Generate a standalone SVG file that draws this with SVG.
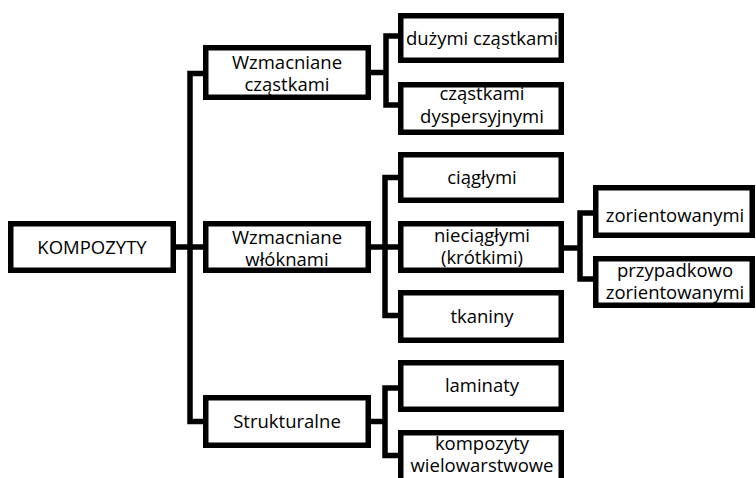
<svg xmlns="http://www.w3.org/2000/svg" width="756" height="478" viewBox="0 0 756 478">
<style>
.box{fill:#fff;stroke:#000;stroke-width:5.5}
.ln{fill:none;stroke:#000;stroke-width:5.5;stroke-linejoin:miter}
text{font-family:"Open Sans","Noto Sans",sans-serif;font-size:18.5px;fill:#000;text-anchor:middle}
</style>
<rect width="756" height="478" fill="#fff"/>
<g id="connectors">
<path class="ln" d="M203,73.5 H190 V421.5 H203"/>
<path class="ln" d="M176,247 H203"/>
<path class="ln" d="M371,72.5 H386"/>
<path class="ln" d="M398,36 H386 V105 H398"/>
<path class="ln" d="M371,247 H398"/>
<path class="ln" d="M398,177.5 H385 V315.5 H398"/>
<path class="ln" d="M371,421.5 H385"/>
<path class="ln" d="M398,388 H385 V455.5 H398"/>
<path class="ln" d="M564,248 H580"/>
<path class="ln" d="M593,213 H580 V279 H593"/>
</g>
<g id="kompozyty"><rect class="box" x="10.75" y="223.75" width="162.5" height="46.5"/><text x="92" y="253.5">KOMPOZYTY</text></g>
<g id="wzm-czastkami"><rect class="box" x="205.75" y="47.75" width="162.5" height="49.5"/><text x="287" y="68.5">Wzmacniane</text><text x="287" y="91">cząstkami</text></g>
<g id="wzm-wloknami"><rect class="box" x="205.75" y="223.75" width="162.5" height="46.5"/><text x="287" y="243.5">Wzmacniane</text><text x="287" y="265.5">włóknami</text></g>
<g id="strukturalne"><rect class="box" x="205.75" y="397.75" width="162.5" height="47.5"/><text x="287" y="428">Strukturalne</text></g>
<g id="duzymi"><rect class="box" x="400.75" y="15.75" width="160.5" height="44.5"/><text x="482" y="45">dużymi cząstkami</text></g>
<g id="dyspersyjnymi"><rect class="box" x="400.75" y="84.75" width="160.5" height="47.5"/><text x="482" y="100">cząstkami</text><text x="482" y="123">dyspersyjnymi</text></g>
<g id="ciaglymi"><rect class="box" x="400.75" y="154.75" width="160.5" height="45.5"/><text x="482" y="183.5">ciągłymi</text></g>
<g id="nieciaglymi"><rect class="box" x="400.75" y="223.75" width="160.5" height="46.5"/><text x="482" y="242">nieciągłymi</text><text x="482" y="263.5">(krótkimi)</text></g>
<g id="tkaniny"><rect class="box" x="400.75" y="292.75" width="160.5" height="47.5"/><text x="482" y="323">tkaniny</text></g>
<g id="laminaty"><rect class="box" x="400.75" y="362.75" width="160.5" height="46.5"/><text x="482" y="392">laminaty</text></g>
<g id="wielowarstwowe"><rect class="box" x="400.75" y="432.75" width="160.5" height="52"/><text x="482" y="450">kompozyty</text><text x="482" y="472">wielowarstwowe</text></g>
<g id="zorientowanymi"><rect class="box" x="595.75" y="187.75" width="156.5" height="47.5"/><text x="675" y="222">zorientowanymi</text></g>
<g id="przypadkowo"><rect class="box" x="595.75" y="258.75" width="156.5" height="46.5"/><text x="675" y="277">przypadkowo</text><text x="675" y="298.5">zorientowanymi</text></g>
</svg>
